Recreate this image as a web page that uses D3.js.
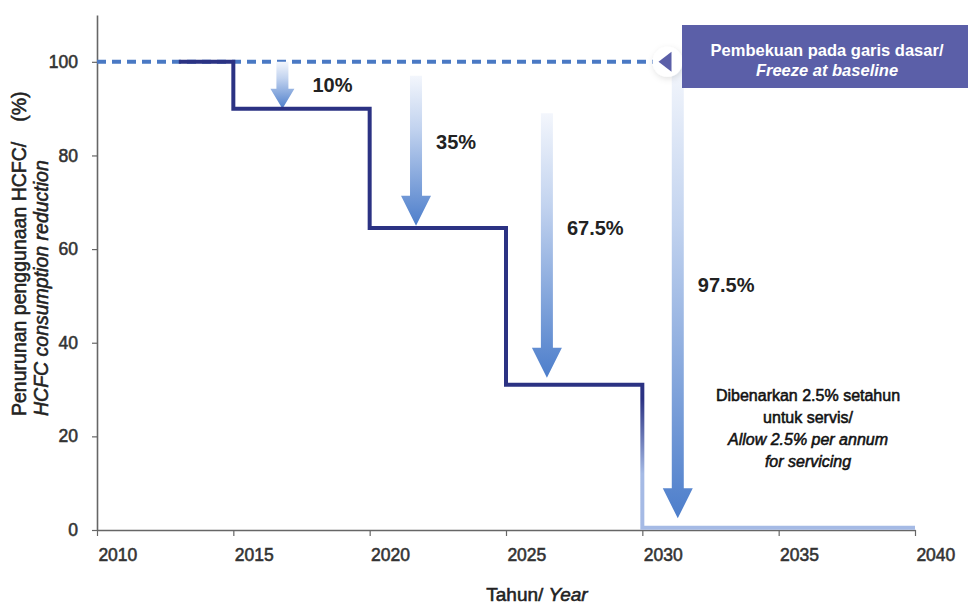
<!DOCTYPE html>
<html>
<head>
<meta charset="utf-8">
<script src="https://cdn.jsdelivr.net/npm/d3@7/dist/d3.min.js"></script>
<style>
  body { margin: 0; background: #fff; }
  text { font-family: "Liberation Sans", Arial, sans-serif; }
  .heavy { stroke-width: 0.55px; paint-order: stroke; }
</style>
</head>
<body>
<div id="chart"></div>
<script>
// Data
const stepYears = [2013, 2015, 2020, 2025, 2030, 2040];
const stepValues = [100, 90, 64.5, 31, 0.5, 0.5];
const baselineValue = 100;

const reductionLabels = ["10%", "35%", "67.5%", "97.5%"];
const arrowYears = [2016.8, 2021.7, 2026.5, 2031.3];
const arrowFrom = [100, 97, 89, 99];
const arrowTo = [90, 65, 32.5, 2.5];
const labelLevels = [93.5, 81.3, 63.1, 50.9];

const xTicks = [2010, 2015, 2020, 2025, 2030, 2035, 2040];
const yTicks = [0, 20, 40, 60, 80, 100];

const W = 968, H = 608;
const margin = { top: 15, right: 53, bottom: 78, left: 97 };
const width = W - margin.left - margin.right;
const height = H - margin.top - margin.bottom;

const svg = d3.select("#chart")
    .append("svg")
    .attr("width", W)
    .attr("height", H);

const defs = svg.append("defs");

const g = svg.append("g")
    .attr("transform", "translate(" + margin.left + "," + margin.top + ")");

const x = d3.scaleLinear().domain([2010, 2040]).range([0, width]);
const y = d3.scaleLinear().domain([0, 110]).range([height, 0]);

// Axes
const xAxis = g.append("g")
    .attr("transform", "translate(0," + height + ")")
    .call(d3.axisBottom(x).tickValues(xTicks).tickFormat(d3.format("d")).tickSize(6).tickSizeOuter(0).tickPadding(13));
xAxis.selectAll("text")
    .attr("class", "heavy")
    .attr("text-anchor", "start")
    .attr("dx", "0.05em")
    .style("font-size", "17.5px")
    .style("fill", "#333")
    .style("stroke", "#333");

const yAxis = g.append("g")
    .call(d3.axisLeft(y).tickValues(yTicks).tickSize(5).tickSizeOuter(0).tickPadding(14));
yAxis.selectAll("text")
    .attr("class", "heavy")
    .style("font-size", "17.5px")
    .style("fill", "#333")
    .style("stroke", "#333");

g.selectAll(".domain").attr("stroke", "#666").attr("stroke-width", 1.6);
g.selectAll(".tick line").attr("stroke", "#666").attr("stroke-width", 1.2);

// Dashed baseline (freeze)
g.append("line")
    .attr("x1", x(2010))
    .attr("x2", x(2030.55))
    .attr("y1", y(baselineValue))
    .attr("y2", y(baselineValue))
    .attr("stroke", "#4a79c4")
    .attr("stroke-width", 4)
    .attr("stroke-dasharray", "9,6");

// Arrow gradient
const ag = defs.append("linearGradient")
    .attr("id", "arrowGrad")
    .attr("x1", 0).attr("y1", 0).attr("x2", 0).attr("y2", 1);
ag.append("stop").attr("offset", "0%").attr("stop-color", "#f3f6fc");
ag.append("stop").attr("offset", "35%").attr("stop-color", "#c2d3ef");
ag.append("stop").attr("offset", "100%").attr("stop-color", "#4d7ecb");

function arrowPath(i) {
    const cx = x(arrowYears[i]);
    const top = y(arrowFrom[i]);
    const tip = y(arrowTo[i]);
    const w = 12;
    const hw = i === 0 ? 24 : 30;
    const hh = i === 0 ? 20 : 30;
    return "M" + (cx - w / 2) + "," + top +
        "L" + (cx + w / 2) + "," + top +
        "L" + (cx + w / 2) + "," + (tip - hh) +
        "L" + (cx + hw / 2) + "," + (tip - hh) +
        "L" + cx + "," + tip +
        "L" + (cx - hw / 2) + "," + (tip - hh) +
        "L" + (cx - w / 2) + "," + (tip - hh) + "Z";
}

g.selectAll(".arrow")
    .data(arrowYears)
    .enter()
    .append("path")
    .attr("class", "arrow")
    .attr("d", (d, i) => arrowPath(i))
    .attr("fill", "url(#arrowGrad)");

// Step line with fade at the 2030 drop
const lg = defs.append("linearGradient")
    .attr("id", "lineGrad")
    .attr("gradientUnits", "userSpaceOnUse")
    .attr("x1", 0).attr("x2", 0)
    .attr("y1", y(28)).attr("y2", y(12));
lg.append("stop").attr("offset", "0%").attr("stop-color", "#2b3283");
lg.append("stop").attr("offset", "100%").attr("stop-color", "#a5bae5");

const line = d3.line()
    .x(d => x(d[0]))
    .y(d => y(d[1]))
    .curve(d3.curveStepAfter);

g.append("path")
    .datum(stepYears.map((d, i) => [d, stepValues[i]]))
    .attr("fill", "none")
    .attr("stroke", "url(#lineGrad)")
    .attr("stroke-width", 4)
    .attr("stroke-linejoin", "miter")
    .attr("d", line);

// Reduction labels
g.selectAll(".red-label")
    .data(reductionLabels)
    .enter()
    .append("text")
    .attr("class", "red-label")
    .attr("x", (d, i) => x(arrowYears[i]) + (i === 0 ? 30 : 20))
    .attr("y", (d, i) => y(labelLevels[i]))
    .style("font-size", "20px")
    .style("font-weight", "bold")
    .style("fill", "#222")
    .text(d => d);

// Freeze marker and box
const shadow = defs.append("filter").attr("id", "glow")
    .attr("x", "-50%").attr("y", "-50%").attr("width", "200%").attr("height", "200%");
shadow.append("feDropShadow")
    .attr("dx", 1).attr("dy", 2).attr("stdDeviation", 3)
    .attr("flood-color", "#000").attr("flood-opacity", 0.12);

const mx = x(2030.85), my = y(baselineValue);
g.append("circle")
    .attr("cx", mx + 2).attr("cy", my)
    .attr("r", 15)
    .attr("fill", "#fff")
    .attr("filter", "url(#glow)");
g.append("path")
    .attr("d", "M" + (mx - 7) + "," + my + "L" + (mx + 6) + "," + (my - 10) + "L" + (mx + 6) + "," + (my + 10) + "Z")
    .attr("fill", "#5b5fa8");

const boxX = 682 - margin.left, boxY = 25 - margin.top;
g.append("rect")
    .attr("x", boxX).attr("y", boxY)
    .attr("width", W - 682 + 5).attr("height", 63)
    .attr("fill", "#5b5fa8");
g.append("text")
    .attr("x", 827 - margin.left).attr("y", 56 - margin.top)
    .attr("text-anchor", "middle")
    .style("font-size", "16.5px").style("font-weight", "bold").style("fill", "#fff")
    .text("Pembekuan pada garis dasar/");
g.append("text")
    .attr("x", 827 - margin.left).attr("y", 76 - margin.top)
    .attr("text-anchor", "middle")
    .style("font-size", "16.5px").style("font-weight", "bold").style("font-style", "italic").style("fill", "#fff")
    .text("Freeze at baseline");

// Servicing note
const note = [
    { t: "Dibenarkan 2.5% setahun", it: false },
    { t: "untuk servis/", it: false },
    { t: "Allow 2.5% per annum", it: true },
    { t: "for servicing", it: true }
];
g.selectAll(".note")
    .data(note)
    .enter()
    .append("text")
    .attr("class", "note heavy")
    .attr("x", 808 - margin.left)
    .attr("y", (d, i) => 401 - margin.top + i * 22)
    .attr("text-anchor", "middle")
    .style("font-size", "16px")
    .style("fill", "#111")
    .style("stroke", "#111")
    .style("font-style", d => d.it ? "italic" : "normal")
    .text(d => d.t);

// Axis titles
const xt = svg.append("text")
    .attr("class", "heavy")
    .attr("x", 537)
    .attr("y", 601)
    .attr("text-anchor", "middle")
    .style("font-size", "19px")
    .style("fill", "#222")
    .style("stroke", "#222");
xt.append("tspan").text("Tahun/ ");
xt.append("tspan").style("font-style", "italic").text("Year");

const yt = svg.append("text")
    .attr("class", "heavy")
    .attr("transform", "translate(26,416) rotate(-90)")
    .style("font-size", "19.5px")
    .style("fill", "#222")
    .style("stroke", "#222");
yt.append("tspan").text("Penurunan penggunaan HCFC/");
yt.append("tspan").attr("dx", 20).text("(%)");

svg.append("text")
    .attr("class", "heavy")
    .attr("transform", "translate(48,416) rotate(-90)")
    .style("font-size", "19.5px")
    .style("font-style", "italic")
    .style("fill", "#222")
    .style("stroke", "#222")
    .text("HCFC consumption reduction");
</script>
</body>
</html>
